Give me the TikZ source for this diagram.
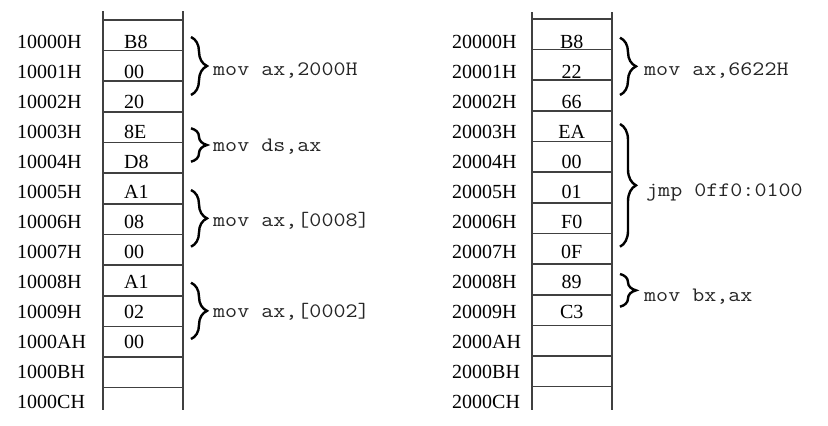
\documentclass[tikz,border=0pt]{standalone}
\usepackage{graphicx}
\usepackage{fontspec}
\setmainfont{Liberation Serif}
\usetikzlibrary{decorations.pathreplacing}
\newcommand{\codetxt}[1]{\scalebox{1.14}[1]{#1}}
\begin{document}
\begin{tikzpicture}[x=1pt,y=-1pt,
  gridline/.style={line width=1.6pt, draw=black!75},
  lab/.style={anchor=base west, inner sep=0pt, font=\fontsize{20}{24}\selectfont},
  cval/.style={anchor=base, inner sep=0pt, font=\fontsize{20}{24}\selectfont},
  code/.style={anchor=base west, inner sep=0pt, text=black!85, font=\ttfamily\fontsize{20.5}{24}\selectfont},
  bracedeco/.style={decorate, decoration={brace, amplitude=16pt}, line width=2.4pt}]
\useasboundingbox (0,0) rectangle (828,426);
% ---- left memory column ----
\foreach \k in {0,...,12} \draw[gridline] (103,{20+30.64*\k}) -- (182.7,{20+30.64*\k});
\draw[gridline] (103,11) -- (103,410);
\draw[gridline] (182.7,11) -- (182.7,410);
\foreach \t [count=\i from 0] in {10000H,10001H,10002H,10003H,10004H,10005H,10006H,10007H,10008H,10009H,1000AH,1000BH,1000CH}
  \node[lab] (la\i) at (17,{48.3+30*\i}) {\t};
\foreach \t [count=\i from 0] in {B8,00,20,8E,D8,A1,08,00,A1,02,00}
  \node[lab] (va\i) at (124,{48.3+30*\i}) {\t};
% ---- right memory column ----
\foreach \k in {0,...,12} \draw[gridline] (531.7,{19+30.64*\k}) -- (611.7,{19+30.64*\k});
\draw[gridline] (531.7,12) -- (531.7,410);
\draw[gridline] (611.7,12) -- (611.7,410);
\foreach \t [count=\i from 0] in {20000H,20001H,20002H,20003H,20004H,20005H,20006H,20007H,20008H,20009H,2000AH,2000BH,2000CH}
  \node[lab] (lb\i) at (452,{48.3+30*\i}) {\t};
\foreach \t [count=\i from 0] in {B8,22,66,EA,00,01,F0,0F,89,C3}
  \node[cval] (vb\i) at (571.7,{48.3+30*\i}) {\t};
% ---- braces ----
\coordinate (b1t) at (191,37);   \coordinate (b1b) at (191,95);
\coordinate (b2t) at (191,128.3);\coordinate (b2b) at (191,161.7);
\coordinate (b3t) at (191,190);  \coordinate (b3b) at (191,246.7);
\coordinate (b4t) at (191,282.7);\coordinate (b4b) at (191,339);
\coordinate (b5t) at (620,37.7); \coordinate (b5b) at (620,95);
\coordinate (b6t) at (620,124);  \coordinate (b6b) at (620,246.7);
\coordinate (b7t) at (620,274);  \coordinate (b7b) at (620,306.7);
\foreach \b in {1,...,7} \draw[bracedeco] (b\b t) -- (b\b b);
% ---- instructions ----
\node[code] (c1) at (213,75) {\codetxt{mov ax,2000H}};
\node[code] (c2) at (213,151.7) {\codetxt{mov ds,ax}};
\node[code] (c3) at (213,226.7) {\codetxt{mov ax,[0008]}};
\node[code] (c4) at (213,317.3) {\codetxt{mov ax,[0002]}};
\node[code] (c5) at (644,75) {\codetxt{mov ax,6622H}};
\node[code] (c6) at (646,196.7) {\codetxt{jmp 0ff0:0100}};
\node[code] (c7) at (644,301.7) {\codetxt{mov bx,ax}};
\end{tikzpicture}
\end{document}
